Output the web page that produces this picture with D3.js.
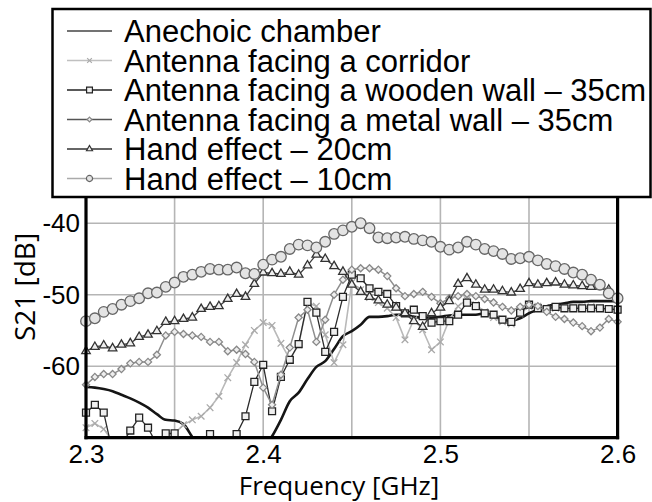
<!DOCTYPE html>
<html><head><meta charset="utf-8">
<script src="https://cdn.jsdelivr.net/npm/d3@7"></script>
<style>body{margin:0;background:#fff} svg{display:block}</style>
</head><body><svg id="c" width="652" height="502"></svg>
<script>
const freq = [2.300,2.305,2.310,2.315,2.320,2.325,2.330,2.335,2.340,2.345,2.350,2.355,2.360,2.365,2.370,2.375,2.380,2.385,2.390,2.395,
2.400,2.405,2.410,2.415,2.420,2.425,2.430,2.435,2.440,2.445,2.450,2.455,2.460,2.465,2.470,2.475,2.480,2.485,2.490,2.495,
2.500,2.505,2.510,2.515,2.520,2.525,2.530,2.535,2.540,2.545,2.550,2.555,2.560,2.565,2.570,2.575,2.580,2.585,2.590,2.595,2.600];

const anechoic = [-62.9,-63.0,-63.2,-63.5,-64.0,-64.5,-65.1,-65.8,-66.7,-67.5,-67.6,-68.1,-69.9,-71.5,-72.5,-73,-73,-73,-73,-72.5,
-71.5,-69.8,-67.5,-64.9,-63.7,-61.8,-60.1,-59.3,-57.6,-55.8,-55.1,-54.2,-53.1,-53.1,-53.0,-52.8,-52.8,-53.1,-53.2,-53.2,
-53.1,-52.9,-52.8,-52.8,-52.8,-52.6,-53.0,-53.5,-53.6,-53.3,-52.6,-52.1,-51.6,-51.4,-51.2,-51.0,-51.0,-50.9,-50.9,-50.9,-50.9];

const corridor = [-68.6,-68.0,-68.8,-70.5,-71.5,-71.5,-70.8,-70.3,-70.5,-69.6,-69.4,-68.2,-67.5,-67.0,-65.8,-64.2,-61.6,-59.5,-57.0,-55.0,
-53.9,-54.3,-56.8,-59.0,-57.0,-51.1,-51.6,-55.6,-59.5,-57.0,-48.3,-49.3,-50.4,-51.1,-51.9,-53.2,-56.3,-53.5,-54.9,-57.7,
-56.6,-53.5,-51.6,-50.7,-51.4,-52.4,-53.2,-53.8,-54.1,-52.7,-51.6,-51.6,-51.9,-51.9,-51.9,-51.9,-51.7,-51.7,-51.9,-52.0,-52.1];

const woodenWall = [-66.5,-65.4,-66.5,-72,-71,-69.0,-67.2,-68.6,-71,-69.4,-69.4,-72,-73,-71.5,-69.5,-71,-71.5,-69.5,-67.0,-62.2,
-59.8,-66.3,-61.5,-59.1,-56.9,-51.0,-52.5,-58.0,-55.2,-50.3,-47.2,-47.7,-49.1,-49.6,-49.9,-51.6,-52.6,-52.1,-53.0,-53.9,
-53.7,-53.7,-52.8,-51.1,-51.6,-52.6,-52.8,-53.5,-53.8,-52.5,-51.4,-51.9,-52.0,-51.7,-51.9,-51.9,-51.9,-51.9,-51.9,-52.0,-52.1];

const metalWall = [-62.6,-61.5,-61.1,-61.1,-60.4,-59.6,-59.4,-59.4,-58.4,-55.7,-55.2,-55.5,-55.7,-55.9,-56.6,-56.6,-57.9,-57.7,-58.3,-59.4,
-63.0,-65.4,-61.2,-57.4,-53.2,-52.1,-56.6,-53.5,-50.0,-47.9,-46.5,-46.3,-46.3,-46.5,-47.4,-49.1,-50.2,-49.9,-49.6,-50.3,
-51.2,-50.5,-50.2,-49.9,-50.2,-50.6,-51.1,-51.7,-52.2,-51.7,-51.4,-51.6,-52.4,-53.1,-53.4,-53.9,-54.4,-55.1,-54.6,-53.4,-53.8];

const hand20 = [-57.9,-57.3,-57.1,-57.5,-57.0,-56.8,-55.9,-55.6,-55.1,-53.8,-53.7,-53.4,-53.2,-52.0,-51.7,-51.6,-50.6,-49.9,-50.3,-48.5,
-46.9,-47.0,-47.1,-46.8,-47.2,-45.9,-44.4,-45.0,-46.0,-46.8,-48.6,-49.6,-50.3,-50.8,-51.4,-51.8,-52.6,-53.7,-54.5,-52.6,
-51.8,-50.9,-48.5,-47.7,-48.6,-49.3,-49.3,-49.5,-49.7,-49.2,-48.4,-48.6,-48.4,-48.3,-48.6,-48.7,-48.8,-48.9,-48.9,-49.3,-50.2];

const hand10 = [-53.7,-53.3,-52.4,-52.0,-51.4,-50.9,-50.5,-49.8,-49.7,-48.9,-48.3,-47.5,-47.2,-46.8,-46.4,-46.5,-46.5,-46.2,-47.0,-47.1,
-45.8,-45.1,-44.7,-43.6,-43.0,-43.1,-43.4,-42.6,-41.5,-41.0,-40.5,-40.0,-40.7,-42.0,-42.1,-42.0,-41.9,-42.2,-42.4,-42.6,
-43.3,-43.7,-43.4,-42.6,-43.0,-43.6,-43.9,-44.3,-45.0,-44.9,-44.7,-45.2,-45.7,-46.0,-46.4,-46.9,-47.2,-47.9,-48.6,-49.8,-50.5];

const seriesNames = ["Anechoic chamber","Antenna facing a corridor","Antenna facing a wooden wall \u2013 35cm",
  "Antenna facing a metal wall \u2013 35cm","Hand effect \u2013 20cm","Hand effect \u2013 10cm"];
const xTickValues = [2.3,2.4,2.5,2.6];
const yTickValues = [-40,-50,-60];
const xGridValues = [2.35,2.4,2.45,2.5,2.55];
const yGridValues = [-30,-40,-50,-60];

const series = [
  {name: seriesNames[0], values: anechoic, line: "#151515", lw: 2.6, symbol: null, curve: d3.curveMonotoneX, legLine:"#444", legLw:1.6},
  {name: seriesNames[1], values: corridor, line: "#b9b9b9", lw: 1.6, symbol: d3.symbolTimes, size: 30, mStroke: "#aaaaaa", mFill: "none", legSize: 16, legLine:"#c0c0c0", legLw:1.6},
  {name: seriesNames[2], values: woodenWall, line: "#2b2b2b", lw: 1.3, symbol: d3.symbolSquare, size: 48, mStroke: "#222", mFill: "#efefef", legSize: 34, legLine:"#222", legLw:1.6},
  {name: seriesNames[3], values: metalWall, line: "#8e8e8e", lw: 1.5, symbol: d3.symbolDiamond2, size: 32, mStroke: "#888", mFill: "#eeeeee", legSize: 14, legLine:"#555", legLw:1.6},
  {name: seriesNames[4], values: hand20, line: "#3d3d3d", lw: 1.3, symbol: d3.symbolTriangle2, size: 52, mStroke: "#333", mFill: "#eeeeee", legSize: 26, legLine:"#333", legLw:1.6},
  {name: seriesNames[5], values: hand10, line: "#7a7a7a", lw: 1.5, symbol: d3.symbolCircle, size: 88, mStroke: "#666", mFill: "#e4e4e4", legSize: 30, legLine:"#aaa", legLw:1.6}
];

const svg = d3.select("#c");
const x = d3.scaleLinear().domain([2.3, 2.6]).range([86, 617.6]);
const y = d3.scaleLinear().domain([-70, -30]).range([437.7, 151.7]);

// grid
const g = svg.append("g");
g.selectAll(".vg").data(xGridValues).join("line")
  .attr("x1", d => x(d)).attr("x2", d => x(d)).attr("y1", y(-30)).attr("y2", y(-70))
  .attr("stroke", "#b5b5b5").attr("stroke-width", 1.6);
g.selectAll(".hg").data(yGridValues).join("line")
  .attr("x1", x(2.3)).attr("x2", x(2.6)).attr("y1", d => y(d)).attr("y2", d => y(d))
  .attr("stroke", "#b5b5b5").attr("stroke-width", 1.6);

// clip
svg.append("clipPath").attr("id", "clip").append("rect")
  .attr("x", 0).attr("y", y(-30)).attr("width", 652).attr("height", y(-70) - y(-30));

const plot = svg.append("g").attr("clip-path", "url(#clip)");
series.forEach(s => {
  const pts = freq.map((f, i) => [f, s.values[i]]);
  plot.append("path").datum(pts)
    .attr("fill", "none").attr("stroke", s.line).attr("stroke-width", s.lw)
    .attr("stroke-linejoin", "round")
    .attr("d", d3.line().x(d => x(d[0])).y(d => y(d[1])).curve(s.curve || d3.curveLinear));
  if (s.symbol) {
    plot.append("g").selectAll("path").data(pts).join("path")
      .attr("transform", d => `translate(${x(d[0])},${y(d[1])})`)
      .attr("d", d3.symbol().type(s.symbol).size(s.size))
      .attr("fill", s.mFill).attr("stroke", s.mStroke).attr("stroke-width", 1.3);
  }
});

// axes frame
svg.append("line").attr("x1", x(2.3)).attr("x2", x(2.3)).attr("y1", y(-30)).attr("y2", y(-70) + 1.5)
  .attr("stroke", "#000").attr("stroke-width", 3.2);
svg.append("line").attr("x1", x(2.6)).attr("x2", x(2.6)).attr("y1", y(-30)).attr("y2", y(-70) + 1.5)
  .attr("stroke", "#000").attr("stroke-width", 3.2);
svg.append("line").attr("x1", x(2.3) - 1.5).attr("x2", x(2.6) + 1.5).attr("y1", y(-70)).attr("y2", y(-70))
  .attr("stroke", "#000").attr("stroke-width", 3.2);

// tick labels via axes
const xAxis = d3.axisBottom(x).tickValues(xTickValues).tickSize(0).tickPadding(7).tickFormat(d => d.toFixed(1));
const xa = svg.append("g").attr("transform", `translate(0,${y(-70)})`).call(xAxis);
xa.select(".domain").remove();
xa.selectAll("text").attr("font-family", "Liberation Sans, Arial, sans-serif").attr("font-size", 26).attr("fill", "#000");

const yAxis = d3.axisLeft(y).tickValues(yTickValues).tickSize(0).tickPadding(6).tickFormat(d => String(d));
const ya = svg.append("g").attr("transform", `translate(${x(2.3)},0)`).call(yAxis);
ya.select(".domain").remove();
ya.selectAll("text").attr("font-family", "Liberation Sans, Arial, sans-serif").attr("font-size", 26).attr("fill", "#000");

// axis titles
svg.append("text").attr("x", 339).attr("y", 495).attr("text-anchor", "middle")
  .attr("font-family", "Open Sans, sans-serif").attr("font-size", 26).attr("fill", "#000")
  .text("Frequency [GHz]");
svg.append("text").attr("transform", "translate(35,287) rotate(-90)").attr("text-anchor", "middle")
  .attr("font-family", "Open Sans, sans-serif").attr("font-size", 28).attr("fill", "#000")
  .text("S21 [dB]");

// legend
const leg = svg.append("g");
leg.append("rect").attr("x", 52.5).attr("y", 9).attr("width", 598).attr("height", 188)
  .attr("fill", "#fff").attr("stroke", "#000").attr("stroke-width", 2.5);
const rowY = d3.scaleLinear().domain([0, 5]).range([31, 178.5]);
series.forEach((s, i) => {
  const yy = rowY(i);
  leg.append("line").attr("x1", 67).attr("x2", 112).attr("y1", yy).attr("y2", yy)
    .attr("stroke", s.legLine).attr("stroke-width", s.legLw);
  if (s.symbol) {
    leg.append("path").attr("transform", `translate(89.5,${yy})`)
      .attr("d", d3.symbol().type(s.symbol).size(s.legSize))
      .attr("fill", s.mFill).attr("stroke", s.mStroke).attr("stroke-width", 1.2);
  }
  leg.append("text").attr("x", 124).attr("y", yy + 11)
    .attr("font-family", "Liberation Sans, Arial, sans-serif").attr("font-size", 31).attr("fill", "#000")
    .text(s.name);
});
</script></body></html>
